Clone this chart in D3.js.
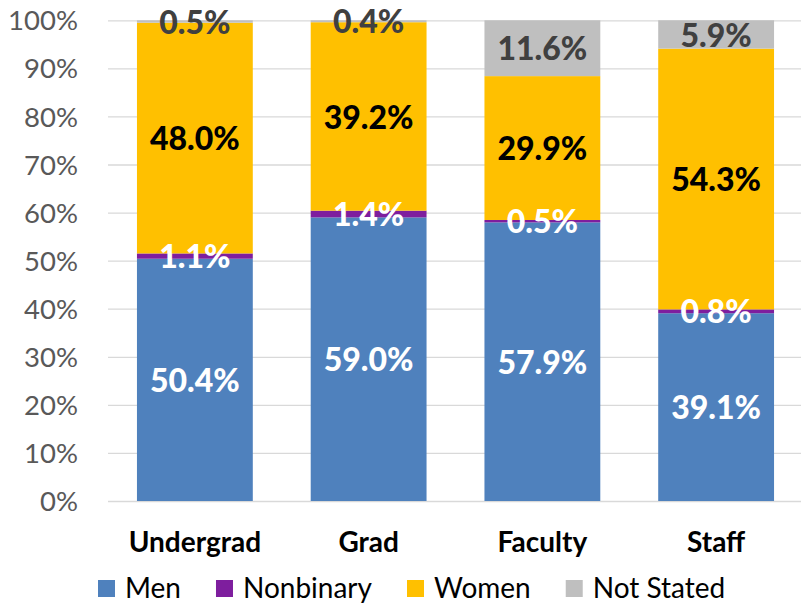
<!DOCTYPE html>
<html>
<head>
<meta charset="utf-8">
<script src="https://cdn.jsdelivr.net/npm/d3@7"></script>
<style>
  body { margin: 0; background: #fff; }
  svg text { font-family: Lato, "Open Sans", sans-serif; }
</style>
</head>
<body>
<div id="chart"></div>
<script>
// values (percent of each group)
var categories = ['Undergrad', 'Grad', 'Faculty', 'Staff'];
var seriesNames = ['Men', 'Nonbinary', 'Women', 'Not Stated'];
var men = [50.4, 59.0, 57.9, 39.1];
var nonbinary = [1.1, 1.4, 0.5, 0.8];
var women = [48.0, 39.2, 29.9, 54.3];
var notStated = [0.5, 0.4, 11.6, 5.9];
var yTicks = [0, 10, 20, 30, 40, 50, 60, 70, 80, 90, 100];

var colors = ['#4F81BD', '#7E1E9E', '#FFC000', '#BFBFBF'];
var labelColors = ['#ffffff', '#ffffff', '#000000', '#404040'];

var width = 801,
    height = 605,
    plotLeft = 108,
    plotRight = 803,
    plotTop = 20.3,
    plotBottom = 501;

var rows = categories.map(function(c, i) {
    var r = { cat: c };
    r['Men'] = men[i];
    r['Nonbinary'] = nonbinary[i];
    r['Women'] = women[i];
    r['Not Stated'] = notStated[i];
    return r;
});

var stack = d3.stack().keys(seriesNames).offset(d3.stackOffsetExpand);
var layers = stack(rows);

var x = d3.scaleBand()
    .domain(categories)
    .range([plotLeft, plotRight])
    .paddingInner(1 / 3)
    .paddingOuter(1 / 6);

var y = d3.scaleLinear().domain([0, 1]).range([plotBottom, plotTop]);

var svg = d3.select('#chart').append('svg')
    .attr('width', width)
    .attr('height', height);

//  Gridlines
var yAxis = d3.axisLeft(y)
    .tickValues(yTicks.map(function(t) { return t / 100; }))
    .tickSize(-(width - plotLeft))
    .tickFormat(function(d) { return Math.round(d * 100) + '%'; });

var gAxis = svg.append('g')
    .attr('transform', 'translate(' + plotLeft + ',0)')
    .call(yAxis);
gAxis.select('.domain').remove();
gAxis.selectAll('.tick line').attr('stroke', '#D9D9D9').attr('stroke-width', 1.3);
gAxis.selectAll('.tick text')
    .attr('x', -30)
    .attr('fill', '#595959')
    .attr('font-size', 27.5)
    .attr('font-family', 'Lato, sans-serif')
    .attr('dy', '0.35em');

//  Bars
var layer = svg.selectAll('g.layer')
    .data(layers)
    .enter().append('g')
    .attr('class', 'layer')
    .attr('fill', function(d, i) { return colors[i]; });

layer.selectAll('rect')
    .data(function(d) { return d; })
    .enter().append('rect')
    .attr('x', function(d) { return x(d.data.cat); })
    .attr('width', x.bandwidth())
    .attr('y', function(d) { return y(d[1]); })
    .attr('height', function(d) { return y(d[0]) - y(d[1]); });

//  Data labels
layers.forEach(function(l, li) {
    svg.append('g').selectAll('text')
        .data(l)
        .enter().append('text')
        .attr('x', function(d) { return x(d.data.cat) + x.bandwidth() / 2; })
        .attr('y', function(d) { return (y(d[0]) + y(d[1])) / 2; })
        .attr('dy', '0.38em')
        .attr('text-anchor', 'middle')
        .attr('font-size', 32)
        .attr('font-weight', 900)
        .attr('fill', labelColors[li])
        .text(function(d) { return d.data[l.key].toFixed(1) + '%'; });
});

//  Category labels
svg.append('g').selectAll('text')
    .data(categories)
    .enter().append('text')
    .attr('x', function(d) { return x(d) + x.bandwidth() / 2; })
    .attr('y', 552)
    .attr('text-anchor', 'middle')
    .attr('font-size', 28)
    .attr('font-weight', 'bold')
    .attr('fill', '#000')
    .text(function(d) { return d; });

//  Legend
var legend = svg.append('g').attr('class', 'legend');
var lx = 98;
seriesNames.forEach(function(name, i) {
    var item = legend.append('g').attr('transform', 'translate(' + lx + ',0)');
    item.append('rect')
        .attr('x', 0).attr('y', 580)
        .attr('width', 17).attr('height', 17)
        .attr('fill', colors[i]);
    var t = item.append('text')
        .attr('x', 27).attr('y', 598)
        .attr('font-size', 28)
        .attr('fill', '#000')
        .text(name);
    lx += 27 + t.node().getComputedTextLength() + 35;
});
</script>
</body>
</html>
